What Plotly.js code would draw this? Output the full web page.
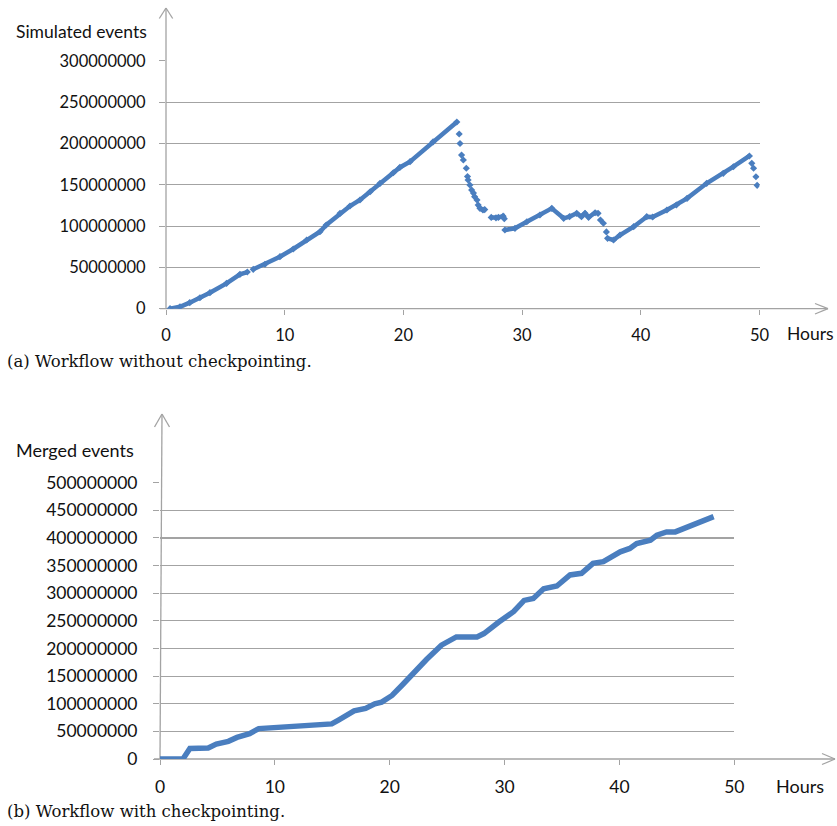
<!DOCTYPE html>
<html>
<head>
<meta charset="utf-8">
<script src="https://cdn.plot.ly/plotly-3.0.1.min.js"></script>
<style>
html,body{margin:0;padding:0;background:#fff;}
#chart{width:837px;height:826px;}
</style>
</head>
<body>
<div id="chart"></div>
<script>
// ---- Data (events in millions) ----
const simHours = [0.34,1.18,2.0,2.86,3.7,5.1,6.23,6.85,null,
  7.35,8.34,9.6,10.72,11.85,12.97,13.5,14.66,15.5,16.34,17.2,18.03,19.15,19.7,20.56,22.5,24.5,null,
  24.7,null,24.77,null,24.9,null,25.05,null,25.3,null,25.4,null,25.45,null,25.6,null,25.75,null,25.9,null,26.0,null,26.2,null,26.3,26.45,26.7,26.85,null,
  27.4,27.8,28.0,28.4,28.5,null,
  28.55,29.4,30.4,31.5,32.5,33.5,34.0,34.6,35.0,35.3,35.6,36.15,36.4,null,36.6,null,36.85,null,37.1,null,
  37.2,37.7,38.25,39.4,40.5,41.0,42.2,43.0,43.9,45.55,46.95,47.8,49.15,null,49.35,null,49.5,null,49.7,null,49.8];
const simEvents = [0,2.4,7.3,13.3,19.4,30.7,41.6,44.4,null,
  47.7,53.8,63,72.3,83.2,93.2,101.3,115.5,124.3,131.6,141.6,151.8,164.6,171,178,202,226,null,
  211.5,null,200,null,186,null,180,null,170,null,160,null,155.8,null,149.8,null,143.7,null,140,null,135.6,null,131.6,null,125.5,121.5,119.5,120,null,
  110.5,110,110.5,112,109,null,
  95.3,97.3,105.3,113.4,121.5,109.4,111.5,115.5,111.4,115.5,110.6,116.2,115.5,null,107.4,null,103.4,null,93,null,
  85.2,83.2,89.2,99.3,111.4,111,119.5,125.5,133.6,151.8,163.9,171.9,184.9,null,176,null,170,null,159.8,null,149.4];

const mergedHours = [0,2.0,2.6,4.2,4.9,5.95,6.7,7.8,8.6,9.7,11.2,12.6,13.8,14.95,15.5,16.4,16.9,17.9,18.7,19.3,
  20.2,21.05,22.1,23.2,24.5,25.1,25.8,27.6,28.2,29.5,30.8,31.7,32.5,33.4,34.55,35.7,36.7,37.7,38.6,40.07,
  40.9,41.5,42.7,43.26,44.1,44.86,45.6,46.45,47.3,48.2];
const mergedEvents = [0,0,19,20,27,32,39,46,55,56.5,58.5,60.5,61.5,63.5,70,82,87,91.5,100,103,
  115,133,157,180,206,212,221,221,227,248,267,287,290.5,308,313,333,336,354,357,375,
  381,390,396,405,411,411,417.5,423.4,432.5,438.5];

const hourTicks = [0,10,20,30,40,50];
const simTickVals = [0,50,100,150,200,250,300];
const simTickText = ['0','50000000','100000000','150000000','200000000','250000000','300000000'];
const mergedTickVals = [0,50,100,150,200,250,300,350,400,450,500];
const mergedTickText = ['0','50000000','100000000','150000000','200000000','250000000','300000000','350000000','400000000','450000000','500000000'];

const titleTop = 'Simulated events';
const titleBottom = 'Merged events';
const xLabel = 'Hours';
const captionA = '(a) Workflow without checkpointing.';
const captionB = '(b) Workflow with checkpointing.';

// ---- Layout helpers ----
const W = 837, H = 826;
const fx = x => x / W;
const fy = y => 1 - y / H;
const blue = '#4a7ebf';
const gray = '#a3a3a3';
const tickFont = s => ({family: 'Lato, sans-serif', size: s, color: '#111'});
const capFont = {family: 'DejaVu Serif, serif', size: 16.5, color: '#111'};

function seg(x0, y0, x1, y1) {
  return {type: 'line', xref: 'paper', yref: 'paper', x0: fx(x0), y0: fy(y0), x1: fx(x1), y1: fy(y1),
          line: {color: gray, width: 1.3}, layer: 'below'};
}

const traces = [
  {x: simHours, y: simEvents, xaxis: 'x', yaxis: 'y', type: 'scatter', mode: 'lines+markers',
   connectgaps: false, line: {color: blue, width: 4.5},
   marker: {color: blue, size: 5.5, symbol: 'diamond'}, showlegend: false, hoverinfo: 'skip'},
  {x: mergedHours, y: mergedEvents, xaxis: 'x2', yaxis: 'y2', type: 'scatter', mode: 'lines',
   line: {color: blue, width: 5.5}, showlegend: false, hoverinfo: 'skip'}
];

const layout = {
  width: W, height: H,
  margin: {l: 0, r: 0, t: 0, b: 0},
  paper_bgcolor: '#fff', plot_bgcolor: 'rgba(0,0,0,0)',
  xaxis: {domain: [fx(166), fx(759.5)], anchor: 'y', range: [0, 50], tickvals: hourTicks,
          ticks: 'outside', ticklen: 5, tickcolor: gray, showgrid: false, zeroline: false, showline: false,
          tickfont: tickFont(16.5), ticklabelstandoff: 6},
  yaxis: {domain: [fy(308.7), fy(60.9)], anchor: 'x', range: [0, 300], tickvals: simTickVals, ticktext: simTickText,
          ticks: 'outside', ticklen: 6, tickcolor: gray, showgrid: true, gridcolor: gray, gridwidth: 1.2,
          zeroline: false, showline: false, tickfont: tickFont(16.5), ticklabelstandoff: 10},
  xaxis2: {domain: [fx(160), fx(734.3)], anchor: 'y2', range: [0, 50], tickvals: hourTicks,
          ticks: 'outside', ticklen: 5, tickcolor: gray, showgrid: false, zeroline: false, showline: false,
          tickfont: tickFont(17.5), ticklabelstandoff: 7},
  yaxis2: {domain: [fy(759), fy(482.7)], anchor: 'x2', range: [0, 500], tickvals: mergedTickVals, ticktext: mergedTickText,
          ticks: 'outside', ticklen: 6, tickcolor: gray, showgrid: true, gridcolor: gray, gridwidth: 1.2,
          zeroline: false, showline: false, tickfont: tickFont(17.5), ticklabelstandoff: 12},
  shapes: [
    // top axes with arrows
    seg(166, 308.7, 166, 8), seg(159.3, 18.5, 166, 8), seg(172.7, 18.5, 166, 8),
    seg(160, 308.7, 828, 308.7), seg(815, 303.5, 828, 308.7), seg(815, 314, 828, 308.7),
    // bottom axes with arrows
    seg(160, 759, 162, 414), seg(154.5, 427, 162, 414), seg(169.5, 427, 162, 414),
    seg(154, 759, 835, 759), seg(822, 753.5, 835, 759), seg(822, 764.5, 835, 759)
  ],
  annotations: [
    {text: titleTop, xref: 'paper', yref: 'paper', x: fx(14), y: fy(31), xanchor: 'left', yanchor: 'middle',
     showarrow: false, font: tickFont(17.5)},
    {text: xLabel, xref: 'paper', yref: 'paper', x: fx(785), y: fy(333), xanchor: 'left', yanchor: 'middle',
     showarrow: false, font: tickFont(17.5)},
    {text: captionA, xref: 'paper', yref: 'paper', x: fx(5), y: fy(361), xanchor: 'left', yanchor: 'middle',
     showarrow: false, font: capFont},
    {text: titleBottom, xref: 'paper', yref: 'paper', x: fx(14), y: fy(450), xanchor: 'left', yanchor: 'middle',
     showarrow: false, font: tickFont(18)},
    {text: xLabel, xref: 'paper', yref: 'paper', x: fx(774), y: fy(786), xanchor: 'left', yanchor: 'middle',
     showarrow: false, font: tickFont(18)},
    {text: captionB, xref: 'paper', yref: 'paper', x: fx(5), y: fy(811), xanchor: 'left', yanchor: 'middle',
     showarrow: false, font: capFont}
  ]
};

Plotly.newPlot('chart', traces, layout, {staticPlot: true, displayModeBar: false});
</script>
</body>
</html>
